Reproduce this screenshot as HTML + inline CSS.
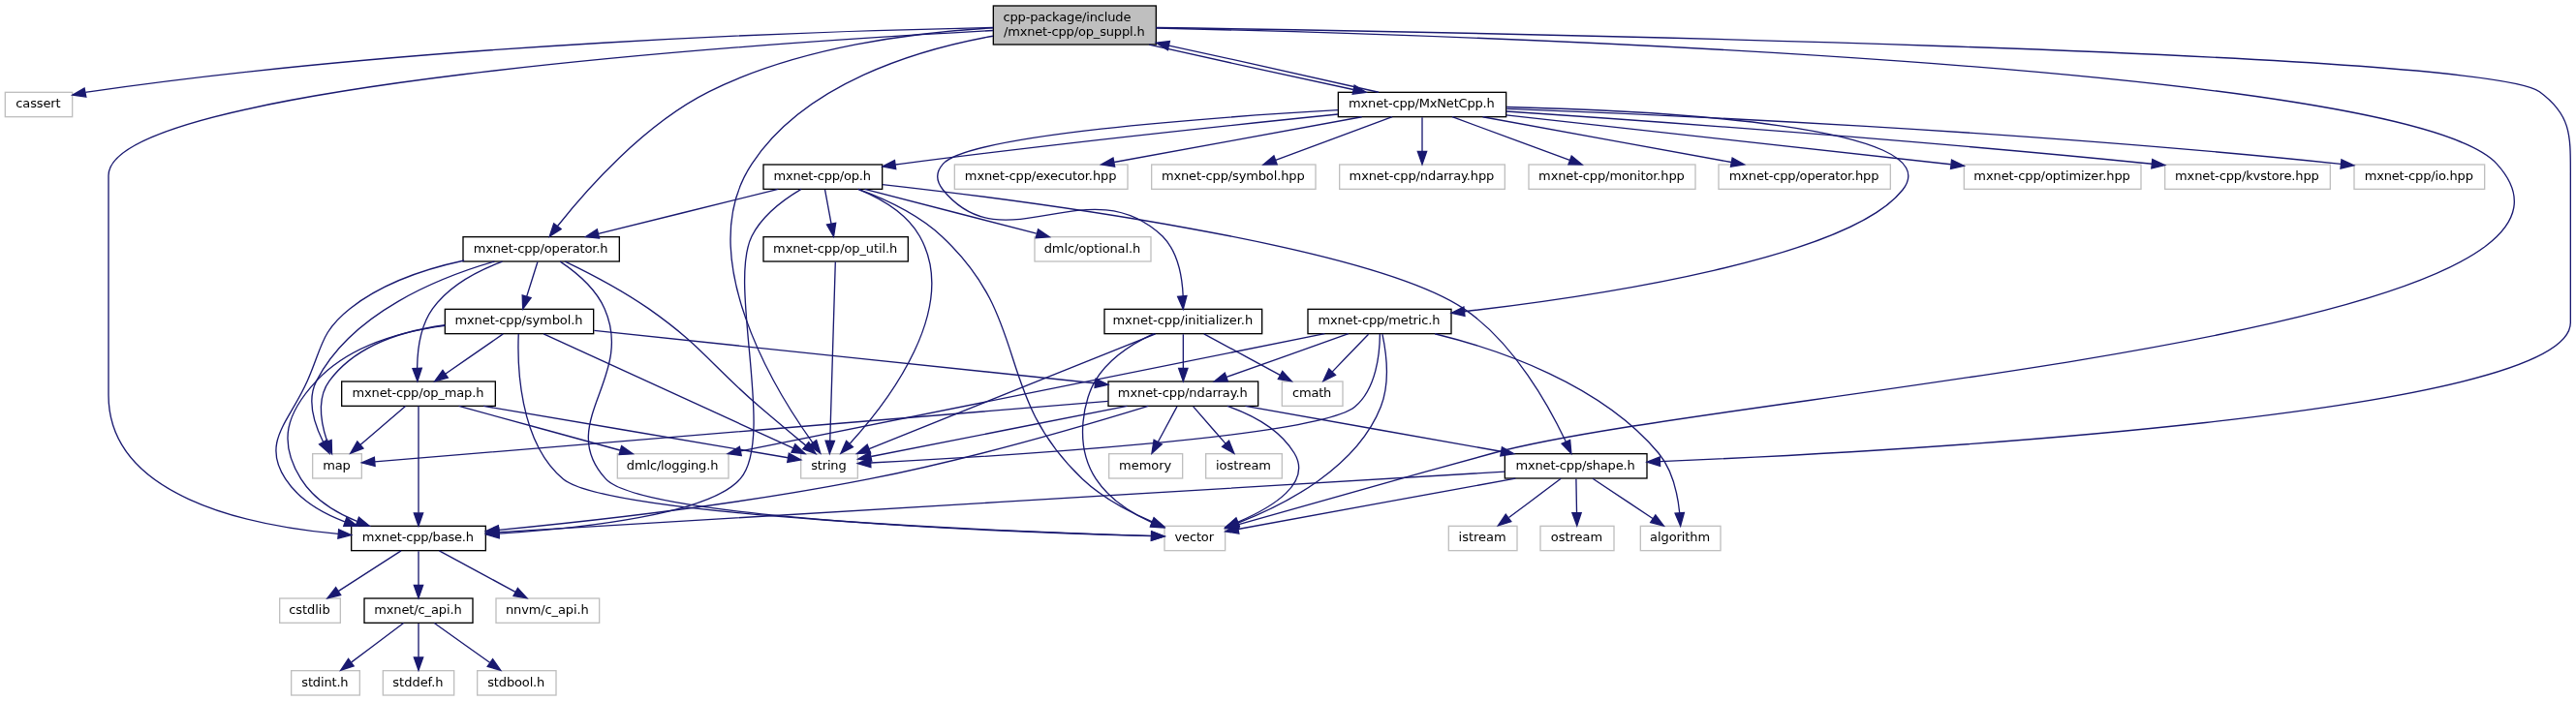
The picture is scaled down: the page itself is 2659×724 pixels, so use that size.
<!DOCTYPE html>
<html><head><meta charset="utf-8"><title>cpp-package/include/mxnet-cpp/op_suppl.h</title>
<style>
html,body{margin:0;padding:0;background:#fff;}
body{width:2659px;height:724px;overflow:hidden;font-family:"DejaVu Sans","Liberation Sans",sans-serif;}
svg{display:block;will-change:transform;}
</style></head><body>
<svg width="2659" height="724" viewBox="0 0 1994.25 543">
<rect x="0" y="0" width="1994.25" height="543" fill="#ffffff"/>
<g transform="translate(4 539)" font-family="'DejaVu Sans', 'Liberation Sans', sans-serif" font-size="9.75">
<rect x="765" y="-534.5" width="126" height="30" fill="#bfbfbf" stroke="#000000"/>
<text text-anchor="start" x="772.6" y="-522.5" textLength="98.99" fill="#000000">cpp-package/include</text>
<text text-anchor="middle" x="827.6" y="-511.5" textLength="109.33" fill="#000000">/mxnet-cpp/op_suppl.h</text>
<rect x="0" y="-467.5" width="52" height="19" fill="white" stroke="#bfbfbf"/>
<text text-anchor="middle" x="25.6" y="-455.5" textLength="34.72" fill="#000000">cassert</text>
<rect x="616" y="-187.5" width="44" height="19" fill="white" stroke="#bfbfbf"/>
<text text-anchor="middle" x="637.6" y="-175.5" textLength="27.33" fill="#000000">string</text>
<rect x="897.5" y="-131.5" width="47" height="19" fill="white" stroke="#bfbfbf"/>
<text text-anchor="middle" x="920.6" y="-119.5" textLength="30.29" fill="#000000">vector</text>
<rect x="268" y="-131.5" width="104" height="19" fill="white" stroke="#000000"/>
<text text-anchor="middle" x="319.6" y="-119.5" textLength="86.43" fill="#000000">mxnet-cpp/base.h</text>
<rect x="1161" y="-187.5" width="110" height="19" fill="white" stroke="#000000"/>
<text text-anchor="middle" x="1215.6" y="-175.5" textLength="92.34" fill="#000000">mxnet-cpp/shape.h</text>
<rect x="354.5" y="-355.5" width="121" height="19" fill="white" stroke="#000000"/>
<text text-anchor="middle" x="414.6" y="-343.5" textLength="104.15" fill="#000000">mxnet-cpp/operator.h</text>
<rect x="1032" y="-467.5" width="130" height="19" fill="white" stroke="#000000"/>
<text text-anchor="middle" x="1096.6" y="-455.5" textLength="113.03" fill="#000000">mxnet-cpp/MxNetCpp.h</text>
<rect x="212.5" y="-75.5" width="47" height="19" fill="white" stroke="#bfbfbf"/>
<text text-anchor="middle" x="235.6" y="-63.5" textLength="31.77" fill="#000000">cstdlib</text>
<rect x="278" y="-75.5" width="84" height="19" fill="white" stroke="#000000"/>
<text text-anchor="middle" x="319.6" y="-63.5" textLength="67.97" fill="#000000">mxnet/c_api.h</text>
<rect x="380" y="-75.5" width="80" height="19" fill="white" stroke="#bfbfbf"/>
<text text-anchor="middle" x="419.6" y="-63.5" textLength="64.27" fill="#000000">nnvm/c_api.h</text>
<rect x="221.5" y="-19.5" width="53" height="19" fill="white" stroke="#bfbfbf"/>
<text text-anchor="middle" x="247.6" y="-7.5" textLength="36.2" fill="#000000">stdint.h</text>
<rect x="292.5" y="-19.5" width="55" height="19" fill="white" stroke="#bfbfbf"/>
<text text-anchor="middle" x="319.6" y="-7.5" textLength="39.15" fill="#000000">stddef.h</text>
<rect x="365.5" y="-19.5" width="61" height="19" fill="white" stroke="#bfbfbf"/>
<text text-anchor="middle" x="395.6" y="-7.5" textLength="44.33" fill="#000000">stdbool.h</text>
<rect x="1117.5" y="-131.5" width="53" height="19" fill="white" stroke="#bfbfbf"/>
<text text-anchor="middle" x="1143.6" y="-119.5" textLength="36.94" fill="#000000">istream</text>
<rect x="1188.5" y="-131.5" width="57" height="19" fill="white" stroke="#bfbfbf"/>
<text text-anchor="middle" x="1216.6" y="-119.5" textLength="39.89" fill="#000000">ostream</text>
<rect x="1266" y="-131.5" width="62" height="19" fill="white" stroke="#bfbfbf"/>
<text text-anchor="middle" x="1296.6" y="-119.5" textLength="46.54" fill="#000000">algorithm</text>
<rect x="238" y="-187.5" width="38" height="19" fill="white" stroke="#bfbfbf"/>
<text text-anchor="middle" x="256.6" y="-175.5" textLength="21.42" fill="#000000">map</text>
<rect x="260.5" y="-243.5" width="119" height="19" fill="white" stroke="#000000"/>
<text text-anchor="middle" x="319.6" y="-231.5" textLength="101.95" fill="#000000">mxnet-cpp/op_map.h</text>
<rect x="340.5" y="-299.5" width="115" height="19" fill="white" stroke="#000000"/>
<text text-anchor="middle" x="397.6" y="-287.5" textLength="98.99" fill="#000000">mxnet-cpp/symbol.h</text>
<rect x="474" y="-187.5" width="86" height="19" fill="white" stroke="#bfbfbf"/>
<text text-anchor="middle" x="516.6" y="-175.5" textLength="70.92" fill="#000000">dmlc/logging.h</text>
<rect x="854" y="-243.5" width="116" height="19" fill="white" stroke="#000000"/>
<text text-anchor="middle" x="911.6" y="-231.5" textLength="100.46" fill="#000000">mxnet-cpp/ndarray.h</text>
<rect x="854.5" y="-187.5" width="57" height="19" fill="white" stroke="#bfbfbf"/>
<text text-anchor="middle" x="882.6" y="-175.5" textLength="40.63" fill="#000000">memory</text>
<rect x="929.5" y="-187.5" width="59" height="19" fill="white" stroke="#bfbfbf"/>
<text text-anchor="middle" x="958.6" y="-175.5" textLength="42.85" fill="#000000">iostream</text>
<rect x="735" y="-411.5" width="134" height="19" fill="white" stroke="#bfbfbf"/>
<text text-anchor="middle" x="801.6" y="-399.5" textLength="117.45" fill="#000000">mxnet-cpp/executor.hpp</text>
<rect x="887.5" y="-411.5" width="127" height="19" fill="white" stroke="#bfbfbf"/>
<text text-anchor="middle" x="950.6" y="-399.5" textLength="110.81" fill="#000000">mxnet-cpp/symbol.hpp</text>
<rect x="1033" y="-411.5" width="128" height="19" fill="white" stroke="#bfbfbf"/>
<text text-anchor="middle" x="1096.6" y="-399.5" textLength="112.28" fill="#000000">mxnet-cpp/ndarray.hpp</text>
<rect x="1179.5" y="-411.5" width="129" height="19" fill="white" stroke="#bfbfbf"/>
<text text-anchor="middle" x="1243.6" y="-399.5" textLength="113.02" fill="#000000">mxnet-cpp/monitor.hpp</text>
<rect x="1326.5" y="-411.5" width="133" height="19" fill="white" stroke="#bfbfbf"/>
<text text-anchor="middle" x="1392.6" y="-399.5" textLength="115.97" fill="#000000">mxnet-cpp/operator.hpp</text>
<rect x="1516.5" y="-411.5" width="137" height="19" fill="white" stroke="#bfbfbf"/>
<text text-anchor="middle" x="1584.6" y="-399.5" textLength="121.14" fill="#000000">mxnet-cpp/optimizer.hpp</text>
<rect x="1672" y="-411.5" width="128" height="19" fill="white" stroke="#bfbfbf"/>
<text text-anchor="middle" x="1735.6" y="-399.5" textLength="111.55" fill="#000000">mxnet-cpp/kvstore.hpp</text>
<rect x="587" y="-411.5" width="92" height="19" fill="white" stroke="#000000"/>
<text text-anchor="middle" x="632.6" y="-399.5" textLength="75.35" fill="#000000">mxnet-cpp/op.h</text>
<rect x="1818.5" y="-411.5" width="101" height="19" fill="white" stroke="#bfbfbf"/>
<text text-anchor="middle" x="1868.6" y="-399.5" textLength="84.22" fill="#000000">mxnet-cpp/io.hpp</text>
<rect x="1008.5" y="-299.5" width="111" height="19" fill="white" stroke="#000000"/>
<text text-anchor="middle" x="1063.6" y="-287.5" textLength="94.56" fill="#000000">mxnet-cpp/metric.h</text>
<rect x="851" y="-299.5" width="122" height="19" fill="white" stroke="#000000"/>
<text text-anchor="middle" x="911.6" y="-287.5" textLength="108.58" fill="#000000">mxnet-cpp/initializer.h</text>
<rect x="587" y="-355.5" width="112" height="19" fill="white" stroke="#000000"/>
<text text-anchor="middle" x="642.6" y="-343.5" textLength="96.04" fill="#000000">mxnet-cpp/op_util.h</text>
<rect x="797" y="-355.5" width="90" height="19" fill="white" stroke="#bfbfbf"/>
<text text-anchor="middle" x="841.6" y="-343.5" textLength="74.61" fill="#000000">dmlc/optional.h</text>
<rect x="988.5" y="-243.5" width="47" height="19" fill="white" stroke="#bfbfbf"/>
<text text-anchor="middle" x="1011.6" y="-231.5" textLength="30.29" fill="#000000">cmath</text>
<g fill="none" stroke="#191970" stroke-width="1">
<path d="M764.93,-517.62C634.01,-515.08 323.51,-505.27 66,-468 64.73,-467.82 63.44,-467.61 62.15,-467.4"/>
<path d="M764.77,-511.07C705.24,-500.34 619.23,-474.38 578,-412 531.32,-341.37 596.16,-236.54 625.2,-195.93"/>
<path d="M891.22,-517.23C1114.86,-512.08 1858.89,-489.22 1929,-412 2049.79,-278.96 1325.4,-235.16 1152,-188 1081.51,-168.83 999.21,-145.43 954.35,-132.58"/>
<path d="M764.87,-515.37C584.54,-505.59 80,-472.07 80,-403 80,-403 80,-403 80,-233 80,-154.8 186.6,-131.98 257.71,-125.45"/>
<path d="M891.07,-517.61C1123.16,-514.09 1918.53,-499.75 1962,-468 1986.87,-449.84 1986,-433.8 1986,-403 1986,-403 1986,-403 1986,-289 1986,-218.05 1467.11,-189.46 1281.25,-181.49"/>
<path d="M764.79,-517.37C705.22,-514.02 614.93,-502.93 545,-468 493.94,-442.51 448.76,-390.63 427.65,-363.85"/>
<path d="M885.58,-504.47C932.43,-493.81 997.95,-479.35 1043.64,-469.63"/>
<path d="M306.5,-112.32C293.4,-103.9 273.29,-90.97 257.89,-81.07"/>
<path d="M320,-112.08C320,-105.01 320,-94.86 320,-85.99"/>
<path d="M336.07,-112.32C351.96,-103.74 376.51,-90.49 394.96,-80.52"/>
<path d="M308.43,-56.32C297.58,-48.18 281.12,-35.84 268.12,-26.09"/>
<path d="M320,-56.08C320,-49.01 320,-38.86 320,-29.99"/>
<path d="M332.21,-56.32C343.78,-48.11 361.38,-35.6 375.16,-25.81"/>
<path d="M1169.26,-168.44C1109.4,-157.49 1007.13,-138.77 954.49,-129.13"/>
<path d="M1160.96,-173.68C1003.02,-164.16 549,-136.8 382.32,-126.76"/>
<path d="M1204.43,-168.32C1193.58,-160.18 1177.12,-147.84 1164.12,-138.09"/>
<path d="M1216.17,-168.08C1216.3,-161.01 1216.48,-150.86 1216.65,-141.99"/>
<path d="M1229.01,-168.32C1241.53,-159.98 1260.68,-147.21 1275.47,-137.35"/>
<path d="M433.52,-336.48C450.82,-328.16 477.04,-314.65 498,-300 539.79,-270.75 545.29,-257.22 584,-224 595.84,-213.84 609.32,-202.61 619.85,-193.91"/>
<path d="M429.66,-336.39C441.38,-328.57 456.98,-315.84 464,-300 487.75,-246.37 425.44,-211.32 465,-168 493.37,-136.93 786.22,-126.48 887.09,-123.79"/>
<path d="M355.36,-337.23C326.3,-331.02 292.27,-319.9 267,-300 244.3,-282.12 245.62,-270.45 234,-244 220.09,-212.31 198.05,-196.96 217,-168 227.5,-151.95 245.13,-141.59 262.85,-134.92"/>
<path d="M378.81,-336.46C336.32,-324.2 268.19,-296.99 241,-244 233.32,-229.02 239.45,-210.19 246.22,-196.65"/>
<path d="M384.92,-336.43C366.48,-329.58 343.98,-318.06 331,-300 321.45,-286.71 319.14,-267.99 318.96,-254.06"/>
<path d="M412.19,-336.08C409.91,-328.85 406.61,-318.41 403.77,-309.39"/>
<path d="M370.39,-224.44C436.53,-213.21 550.7,-193.82 606.06,-184.42"/>
<path d="M320,-224.37C320,-206.62 320,-165.67 320,-141.6"/>
<path d="M309.88,-224.32C300.47,-216.26 286.26,-204.08 274.93,-194.37"/>
<path d="M351.22,-224.44C384.93,-215.2 438.8,-200.44 475.93,-190.26"/>
<path d="M416.83,-280.37C458.89,-261.09 560.65,-214.45 610.1,-191.79"/>
<path d="M397.43,-280.25C396.49,-257.59 397.46,-196.76 432,-168 466.92,-138.93 782.77,-127.07 887.46,-123.92"/>
<path d="M340.4,-286.71C306.87,-282.29 266.36,-271.14 241,-244 217.66,-219.01 210.96,-197.05 229,-168 238.72,-152.36 255.66,-141.98 272.32,-135.19"/>
<path d="M340.48,-287.2C308.64,-282.89 271.47,-271.68 251,-244 241.12,-230.64 244.52,-211.26 249.24,-197.14"/>
<path d="M385.47,-280.32C373.41,-271.98 354.97,-259.21 340.73,-249.35"/>
<path d="M455.96,-282.91C551.53,-272.87 741.71,-252.89 843.67,-242.18"/>
<path d="M868.58,-224.44C813.47,-213.58 719.67,-195.09 670.41,-185.39"/>
<path d="M946.18,-224.49C964.99,-217.88 986.74,-206.6 998,-188 1011.96,-164.94 981.22,-146.09 954.54,-134.74"/>
<path d="M884.95,-224.49C840.36,-210.77 748.48,-183.68 669,-168 569.46,-148.36 452.18,-135.26 382.08,-128.49"/>
<path d="M960.17,-224.44C1013.87,-214.9 1100.69,-199.48 1158.05,-189.29"/>
<path d="M853.87,-228.21C718.54,-217.05 386.3,-189.66 286.08,-181.4"/>
<path d="M907.21,-224.08C903.24,-216.69 897.47,-205.95 892.57,-196.81"/>
<path d="M919.76,-224.08C926.54,-216.3 936.54,-204.8 944.76,-195.37"/>
<path d="M1063.26,-467.55C1022.75,-476.96 953.86,-492.27 901.03,-503.66"/>
<path d="M1050.26,-448.44C998.25,-438.92 914.25,-423.55 858.58,-413.36"/>
<path d="M1073.87,-448.44C1049.52,-439.44 1010.99,-425.19 983.58,-415.05"/>
<path d="M1097,-448.08C1097,-441.01 1097,-430.86 1097,-421.99"/>
<path d="M1120.29,-448.44C1144.81,-439.44 1183.6,-425.19 1211.2,-415.05"/>
<path d="M1143.9,-448.44C1196.08,-438.92 1280.37,-423.55 1336.23,-413.36"/>
<path d="M1162.05,-449.8C1251.06,-439.95 1410.63,-422.29 1506.27,-411.71"/>
<path d="M1162.02,-452.75C1265.51,-445.78 1474.31,-430.9 1661.88,-412.07"/>
<path d="M1031.83,-450.51C951.9,-442.37 812.31,-427.59 693,-412 691.74,-411.83 690.46,-411.67 689.17,-411.49"/>
<path d="M1162.44,-454.74C1286.34,-450.06 1563.88,-437.61 1808.16,-411.99"/>
<path d="M1162.39,-456.14C1279.12,-453.36 1507.75,-441.6 1469,-392 1427.61,-339.01 1233.41,-309.77 1129.7,-297.7"/>
<path d="M1031.81,-453.72C930.79,-447.96 745.9,-434.46 726,-412 720.11,-405.35 720.42,-398.92 726,-392 773.39,-333.23 838.4,-410.57 896,-356 907.69,-344.16 911.26,-324.24 911.9,-309.57"/>
<path d="M660.28,-392.45C677.29,-385.55 697.83,-373.97 708,-356 739.54,-300.3 683.28,-227.56 654.03,-195.45"/>
<path d="M660.49,-392.42C680.24,-385.18 706.53,-373.21 725,-356 795.66,-290.15 764.08,-234.63 834,-168 849.37,-153.35 870.45,-142.28 888.01,-134.79"/>
<path d="M616.28,-392.44C603.31,-384.8 586.21,-372.31 578,-356 559.19,-318.64 596.58,-199.45 569,-168 545.05,-140.69 448.1,-129.88 382.48,-125.66"/>
<path d="M679.24,-396.09C787.74,-383.88 1055.05,-349.48 1129,-300 1168.11,-273.83 1195.56,-223.78 1208.18,-196.98"/>
<path d="M598.46,-392.44C560.78,-383.11 500.38,-368.15 459.26,-357.97"/>
<path d="M634.65,-392.08C635.98,-384.93 637.88,-374.64 639.54,-365.69"/>
<path d="M665.48,-392.44C701.42,-383.16 758.93,-368.31 798.36,-358.13"/>
<path d="M642.73,-336.08C641.94,-309.95 639.63,-233.21 638.56,-197.58"/>
<path d="M1064.27,-280.23C1064.19,-266 1061.75,-238.06 1045,-224 1016.42,-200.01 761,-185.1 670.01,-180.52"/>
<path d="M1066.18,-280.21C1068.91,-267.36 1072.43,-242.91 1065,-224 1046.38,-176.59 990.88,-148.08 954.47,-133.97"/>
<path d="M1106.8,-280.45C1155.9,-268.39 1235.35,-241.59 1280,-188 1290.84,-174.99 1294.85,-155.83 1296.29,-141.68"/>
<path d="M1021.53,-280.46C922.68,-260.58 677.43,-211.26 569.45,-189.55"/>
<path d="M1039.92,-280.44C1014.46,-271.4 974.11,-257.06 945.54,-246.92"/>
<path d="M1055.41,-280.08C1047.84,-272.22 1036.62,-260.57 1027.49,-251.08"/>
<path d="M890.5,-280.37C842.18,-260.97 724.86,-213.87 668.81,-191.37"/>
<path d="M889.21,-280.47C873.67,-273.32 854.26,-261.44 843.91,-244 836.43,-232.22 826.1,-195.84 844.43,-168 854.78,-152.21 872.19,-141.34 887.74,-134.24"/>
<path d="M912,-280.08C912,-273.01 912,-262.86 912,-253.99"/>
<path d="M928.07,-280.32C943.96,-271.74 968.51,-258.49 986.96,-248.52"/>
</g>
<g fill="#191970" stroke="#191970" stroke-width="1">
<polygon points="62.62,-463.92 52.14,-465.49 61.31,-470.8"/>
<polygon points="628.02,-197.99 631.11,-187.86 622.37,-193.86"/>
<polygon points="955.15,-129.17 944.57,-129.78 953.22,-135.9"/>
<polygon points="258.25,-128.92 267.92,-124.6 257.67,-121.94"/>
<polygon points="1281.21,-177.99 1271.07,-181.06 1280.91,-184.98"/>
<polygon points="430.31,-361.57 421.44,-355.8 424.77,-365.85"/>
<polygon points="1044.59,-473 1053.65,-467.51 1043.14,-466.16"/>
<polygon points="259.77,-78.12 249.46,-75.65 255.98,-84.01"/>
<polygon points="323.5,-85.75 320,-75.75 316.5,-85.75"/>
<polygon points="396.84,-83.49 403.97,-75.65 393.51,-77.33"/>
<polygon points="269.88,-23.03 259.78,-19.83 265.68,-28.63"/>
<polygon points="323.5,-29.75 320,-19.75 316.5,-29.75"/>
<polygon points="377.44,-28.48 383.57,-19.83 373.39,-22.77"/>
<polygon points="955.12,-125.69 944.65,-127.33 953.86,-132.57"/>
<polygon points="382.43,-123.26 372.24,-126.15 382.01,-130.24"/>
<polygon points="1165.88,-135.03 1155.78,-131.83 1161.68,-140.63"/>
<polygon points="1220.15,-141.81 1216.84,-131.75 1213.15,-141.68"/>
<polygon points="1277.64,-140.11 1284.02,-131.65 1273.76,-134.29"/>
<polygon points="622.08,-196.6 627.57,-187.54 617.63,-191.2"/>
<polygon points="887.42,-127.28 897.32,-123.53 887.24,-120.28"/>
<polygon points="264.33,-138.11 272.67,-131.58 262.07,-131.49"/>
<polygon points="249.31,-198.31 251.08,-187.86 243.18,-194.92"/>
<polygon points="322.47,-253.77 319.2,-243.69 315.47,-253.61"/>
<polygon points="407.07,-308.23 400.75,-299.75 400.4,-310.31"/>
<polygon points="606.73,-187.86 616,-182.74 605.55,-180.96"/>
<polygon points="323.5,-141.59 320,-131.59 316.5,-141.59"/>
<polygon points="277.18,-191.68 267.31,-187.83 272.62,-197"/>
<polygon points="477.21,-193.54 485.93,-187.52 475.36,-186.78"/>
<polygon points="611.62,-194.94 619.26,-187.59 608.71,-188.58"/>
<polygon points="887.59,-127.41 897.48,-123.62 887.38,-120.42"/>
<polygon points="273.87,-138.35 282.03,-131.59 271.44,-131.78"/>
<polygon points="252.6,-198.15 252.9,-187.55 246.06,-195.65"/>
<polygon points="342.72,-246.47 332.5,-243.65 338.73,-252.22"/>
<polygon points="844.28,-245.63 853.85,-241.11 843.54,-238.67"/>
<polygon points="670.8,-181.9 660.31,-183.4 669.45,-188.77"/>
<polygon points="955.56,-131.38 944.98,-130.9 952.95,-137.88"/>
<polygon points="382.38,-125 372.09,-127.53 381.71,-131.97"/>
<polygon points="1158.82,-192.71 1168.06,-187.52 1157.6,-185.82"/>
<polygon points="286.33,-177.91 276.07,-180.57 285.75,-184.88"/>
<polygon points="895.51,-194.91 887.7,-187.75 889.35,-198.22"/>
<polygon points="947.46,-197.59 951.38,-187.75 942.18,-193"/>
<polygon points="900.07,-500.29 891.02,-505.81 901.54,-507.13"/>
<polygon points="858.99,-409.87 848.52,-411.52 857.73,-416.76"/>
<polygon points="984.62,-411.7 974.03,-411.52 982.19,-418.27"/>
<polygon points="1100.5,-421.75 1097,-411.75 1093.5,-421.75"/>
<polygon points="1212.64,-418.25 1220.82,-411.52 1210.22,-411.68"/>
<polygon points="1337.11,-416.75 1346.32,-411.52 1335.85,-409.87"/>
<polygon points="1506.91,-415.16 1516.47,-410.58 1506.14,-408.2"/>
<polygon points="1662.33,-415.55 1671.92,-411.06 1661.62,-408.58"/>
<polygon points="689.55,-408.01 679.16,-410.1 688.59,-414.94"/>
<polygon points="1808.72,-415.45 1818.3,-410.92 1807.99,-408.49"/>
<polygon points="1129.98,-294.21 1119.64,-296.55 1129.18,-301.16"/>
<polygon points="914.69,-309.83 911.96,-299.59 907.71,-309.3"/>
<polygon points="656.3,-192.77 646.91,-187.86 651.2,-197.55"/>
<polygon points="889.39,-138.01 897.34,-131 886.76,-131.52"/>
<polygon points="382.43,-122.15 372.24,-125.03 382.01,-129.13"/>
<polygon points="1211.46,-198.2 1212.41,-187.65 1205.09,-195.31"/>
<polygon points="459.93,-354.52 449.38,-355.52 458.25,-361.32"/>
<polygon points="643,-366.22 641.38,-355.75 636.12,-364.95"/>
<polygon points="799.69,-361.45 808.47,-355.52 797.91,-354.68"/>
<polygon points="642.06,-197.46 638.26,-187.57 635.06,-197.67"/>
<polygon points="670.16,-177.02 660,-180.02 669.82,-184.01"/>
<polygon points="955.35,-130.56 944.76,-130.37 952.92,-137.13"/>
<polygon points="1299.79,-141.83 1296.98,-131.62 1292.81,-141.36"/>
<polygon points="569.93,-186.07 559.44,-187.53 568.55,-192.94"/>
<polygon points="946.57,-243.57 935.97,-243.52 944.22,-250.16"/>
<polygon points="1029.88,-248.53 1020.43,-243.75 1024.84,-253.38"/>
<polygon points="669.98,-188.07 659.4,-187.59 667.38,-194.57"/>
<polygon points="889.27,-137.39 897.14,-130.29 886.57,-130.93"/>
<polygon points="915.5,-253.75 912,-243.75 908.5,-253.75"/>
<polygon points="988.84,-251.49 995.97,-243.65 985.51,-245.33"/>
</g>
</g></svg>
</body></html>
